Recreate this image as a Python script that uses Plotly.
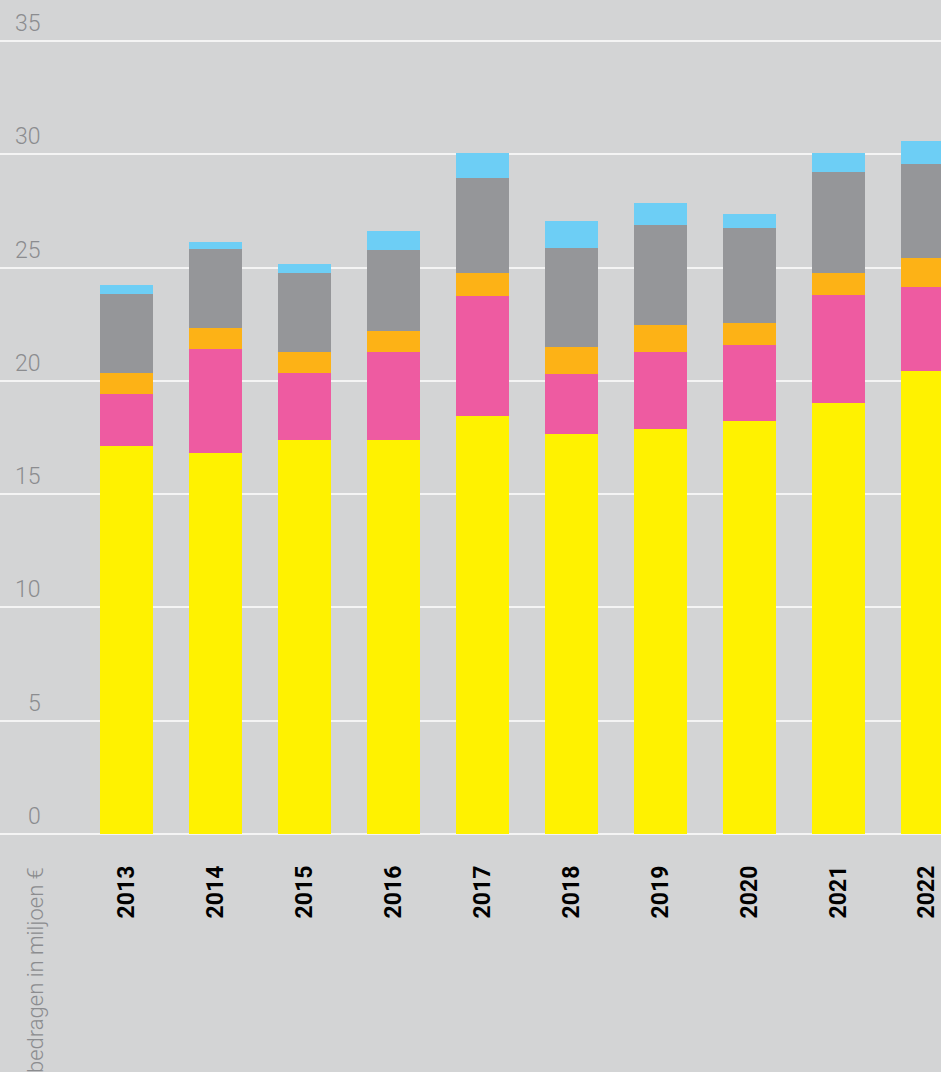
import plotly.graph_objects as go

years = [2013, 2014, 2015, 2016, 2017, 2018, 2019, 2020, 2021, 2022]
year_labels = [str(y) for y in years]

series_names = ["Categorie A", "Categorie B", "Categorie C", "Categorie D", "Categorie E"]
yellow_vals = [17.12, 16.81, 17.38, 17.38, 18.44, 17.64, 17.86, 18.22, 19.01, 20.42]
pink_vals = [2.29, 4.58, 2.96, 3.88, 5.29, 2.65, 3.40, 3.35, 4.77, 3.71]
orange_vals = [0.93, 0.93, 0.92, 0.93, 1.02, 1.19, 1.19, 0.97, 0.97, 1.28]
gray_vals = [3.48, 3.49, 3.49, 3.57, 4.19, 4.37, 4.41, 4.19, 4.45, 4.14]
blue_vals = [0.40, 0.30, 0.39, 0.84, 1.10, 1.19, 0.97, 0.62, 0.84, 1.02]

y_ticks = [0, 5, 10, 15, 20, 25, 30, 35]
y_title = "bedragen in miljoen €"

colors = ["#fff200", "#ee5ba1", "#fdb216", "#959699", "#6dcef5"]
all_vals = [yellow_vals, pink_vals, orange_vals, gray_vals, blue_vals]

W, H = 941, 1072
BG = "#d3d4d5"
FONT = "Roboto, Liberation Sans, sans-serif"

fig = go.Figure()
for name, vals, col in zip(series_names, all_vals, colors):
    fig.add_trace(go.Bar(
        x=years, y=vals, name=name, marker=dict(color=col, line=dict(width=0)),
        width=0.596, showlegend=False, hoverinfo="x+y+name",
    ))

annotations = []
for t in y_ticks:
    annotations.append(dict(
        x=43 / W, xref="paper", xanchor="right",
        y=t, yref="y", yanchor="bottom", yshift=2,
        text=str(t), showarrow=False,
        font=dict(family=FONT, size=23, color="#8b8c8f", weight=300),
    ))

annotations.append(dict(
    x=35 / W, xref="paper", xanchor="center",
    y=(834 - 865) / 834, yref="paper", yanchor="top",
    text=y_title, textangle=-90, showarrow=False,
    font=dict(family=FONT, size=22, color="#8b8c8f", weight=300),
))

fig.update_layout(
    width=W, height=H,
    margin=dict(l=0, r=0, t=0, b=238, pad=0),
    paper_bgcolor=BG, plot_bgcolor=BG,
    barmode="stack",
    bargap=0,
    annotations=annotations,
    xaxis=dict(
        range=[2011.578, 2022.157],
        tickvals=years, ticktext=year_labels,
        tickangle=-90,
        tickfont=dict(family=FONT, size=23, color="#000000", weight="bold"),
        showgrid=False, zeroline=False, showline=False, ticks="",
        ticklabelstandoff=26,
        ticklabeloverflow="allow",
        fixedrange=True,
    ),
    yaxis=dict(
        range=[0, 36.81],
        tickvals=y_ticks, showticklabels=False,
        showgrid=True, gridcolor="#f4f4f4", gridwidth=2,
        zeroline=True, zerolinecolor="#f4f4f4", zerolinewidth=2,
        showline=False, ticks="",
        fixedrange=True,
    ),
)

fig.write_html("out.html")
